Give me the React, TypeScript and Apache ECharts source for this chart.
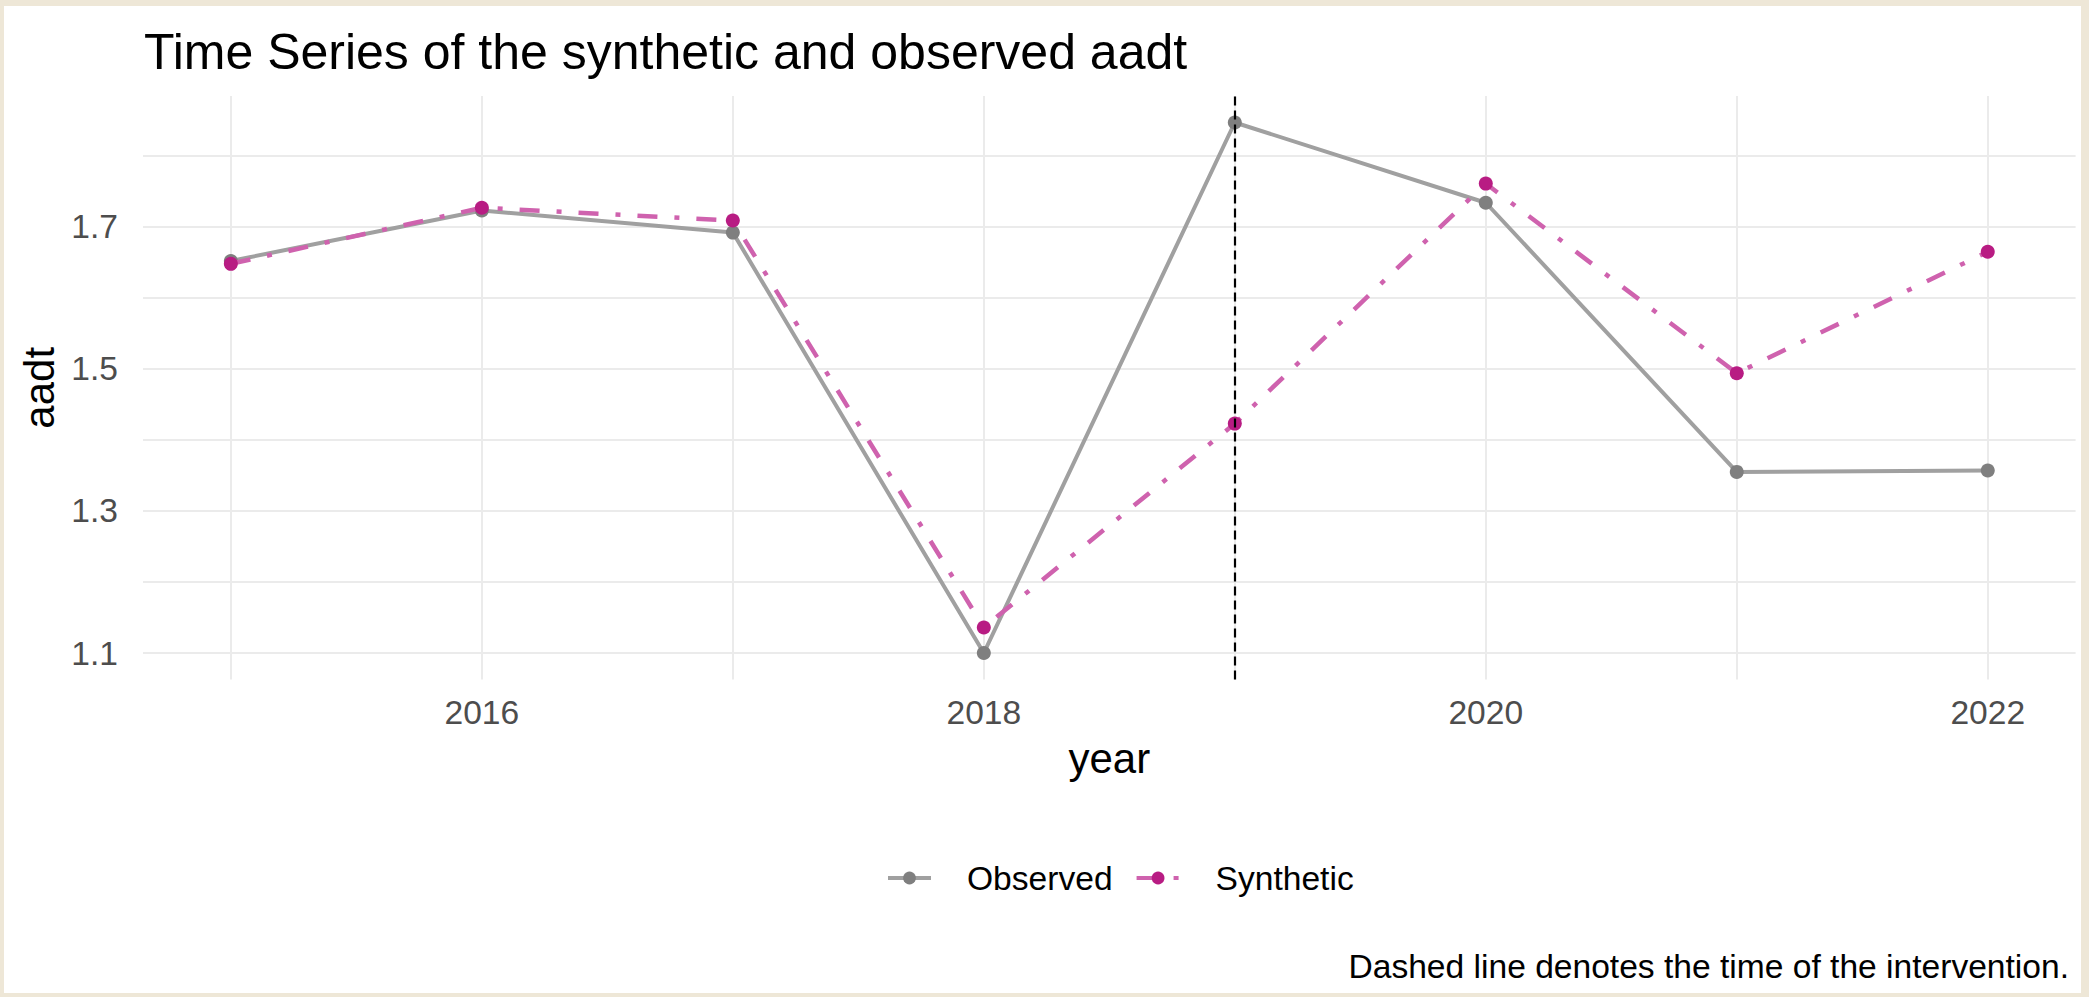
import React, { useEffect, useRef } from "react";
import * as echarts from "echarts";

const years = [2015, 2016, 2017, 2018, 2019, 2020, 2021, 2022];
const observed = [1.652, 1.723, 1.692, 1.1, 1.847, 1.734, 1.355, 1.357];
const synthetic = [1.648, 1.727, 1.709, 1.136, 1.423, 1.761, 1.494, 1.665];
const xTickLabels = [2016, 2018, 2020, 2022];
const yTickLabels = [1.1, 1.3, 1.5, 1.7];
const xGridValues = [2015, 2016, 2017, 2018, 2019, 2020, 2021, 2022];
const yGridValues = [1.1, 1.2, 1.3, 1.4, 1.5, 1.6, 1.7, 1.8];
const interventionYear = 2019;

const FONT = "'Liberation Sans', Arial, sans-serif";

export default function App() {
  const ref = useRef<HTMLDivElement>(null);

  useEffect(() => {
    document.body.style.margin = "0";
    if (!ref.current) return;
    const chart = echarts.init(ref.current, undefined, { renderer: "svg" });
    const obsPairs = years.map((y, i) => [y, observed[i]]);
    const synPairs = years.map((y, i) => [y, synthetic[i]]);
    chart.setOption({
      animation: false,
      backgroundColor: "#ffffff",
      textStyle: { fontFamily: FONT },
      title: {
        text: "Time Series of the synthetic and observed aadt",
        left: 140,
        top: 21,
        padding: 0,
        textStyle: { fontFamily: FONT, fontSize: 50, fontWeight: "normal", color: "#000000" },
      },
      grid: { left: 139, right: 5.4, top: 90, bottom: 313.5, containLabel: false },
      xAxis: {
        type: "value",
        min: 2014.65,
        max: 2022.35,
        name: "year",
        nameLocation: "middle",
        nameGap: 58,
        nameTextStyle: { fontFamily: FONT, fontSize: 42, color: "#000000" },
        axisLine: { show: false },
        axisTick: { show: false },
        splitLine: { show: false },
        axisLabel: {
          customValues: xTickLabels,
          margin: 16,
          fontFamily: FONT,
          fontSize: 33.6,
          color: "#4D4D4D",
          formatter: (v: number) => String(Math.round(v)),
        },
      },
      yAxis: {
        type: "value",
        min: 1.0627,
        max: 1.8843,
        name: "aadt",
        nameLocation: "middle",
        nameGap: 63,
        nameTextStyle: { fontFamily: FONT, fontSize: 42, color: "#000000" },
        axisLine: { show: false },
        axisTick: { show: false },
        splitLine: { show: false },
        axisLabel: {
          customValues: yTickLabels,
          margin: 25,
          fontFamily: FONT,
          fontSize: 33.6,
          color: "#4D4D4D",
          formatter: (v: number) => v.toFixed(1),
        },
      },
      legend: {
        data: ["Observed", "Synthetic"],
        left: 882,
        top: 855,
        itemWidth: 43,
        itemHeight: 16,
        itemGap: 22,
        padding: 0,
        lineStyle: { width: 4 },
        textStyle: { fontFamily: FONT, fontSize: 33.6, color: "#000000", padding: [0, 0, 0, 31] },
      },
      graphic: [
        {
          type: "text",
          right: 12,
          top: 943,
          style: {
            text: "Dashed line denotes the time of the intervention.",
            fontFamily: FONT,
            fontSize: 33.6,
            fill: "#000000",
          },
        },
      ],
      series: [
        {
          name: "grid",
          type: "line",
          data: [],
          z: 0,
          silent: true,
          markLine: {
            z: 0,
            silent: true,
            animation: false,
            symbol: ["none", "none"],
            label: { show: false },
            lineStyle: { color: "#EBEBEB", width: 2, type: "solid" },
            data: [
              ...yGridValues.map((v) => ({ yAxis: v })),
              ...xGridValues.map((v) => ({ xAxis: v })),
            ],
          },
        },
        {
          name: "Observed",
          type: "line",
          data: obsPairs,
          z: 3,
          symbol: "circle",
          symbolSize: 14,
          itemStyle: { color: "#7F7F7F", borderWidth: 0 },
          lineStyle: { color: "#A0A0A0", width: 4 },
        },
        {
          name: "Synthetic",
          type: "line",
          data: synPairs,
          z: 4,
          symbol: "circle",
          symbolSize: 14,
          itemStyle: { color: "#B81C83", borderWidth: 0 },
          lineStyle: { color: "#CF62AE", width: 4.5, type: [20, 17, 5, 17], cap: "butt" },
        },
        {
          name: "intervention",
          type: "line",
          data: [],
          z: 10,
          silent: true,
          markLine: {
            z: 10,
            silent: true,
            animation: false,
            symbol: ["none", "none"],
            label: { show: false },
            lineStyle: { color: "#000000", width: 2.2, type: [9, 5] },
            data: [{ xAxis: interventionYear }],
          },
        },
      ],
    });
    return () => chart.dispose();
  }, []);

  return (
    <div style={{ position: "relative", width: 2089, height: 997, background: "#EEE7D7", overflow: "hidden" }}>
      <div
        ref={ref}
        style={{ position: "absolute", left: 4, top: 6, width: 2077, height: 987, background: "#ffffff" }}
      />
    </div>
  );
}
